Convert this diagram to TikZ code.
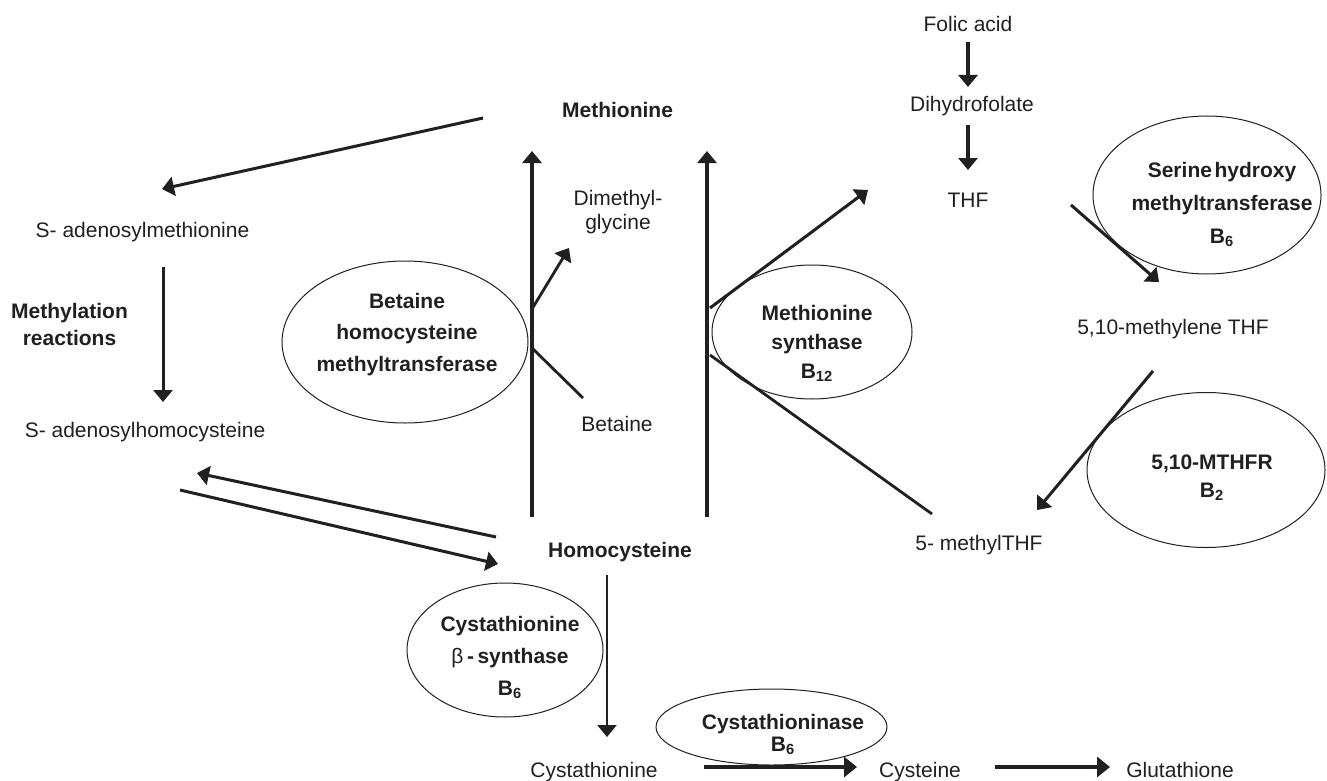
\documentclass[tikz,border=0pt]{standalone}
\usepackage{fontspec}
\setmainfont{Liberation Sans}
\usetikzlibrary{shapes.geometric,arrows.meta}
\definecolor{ink}{RGB}{35,31,32}
\begin{document}
\begin{tikzpicture}[x=0.5pt,y=-0.5pt,color=ink,
  lbl/.style={inner sep=0pt, anchor=base, font=\fontsize{10.5}{12}\selectfont},
  blbl/.style={inner sep=0pt, anchor=base, font=\fontsize{10.5}{12}\selectfont\bfseries},
  mlbl/.style={inner sep=0pt, anchor=north, align=center},
  enz/.style={draw, line width=0.5pt, ellipse, inner sep=0pt},
  tip/.style={-{Triangle[length=6pt,width=9.5pt]}},
  arr/.style={tip, line width=1.5pt},
  farr/.style={tip, line width=2pt},
  thk/.style={-{Triangle[length=6.5pt,width=10pt]}, line width=2pt},
  ln/.style={line width=1.4pt},
]
\useasboundingbox[fill=white] (0,0) rectangle (1327,781);

% enzyme ellipses
\node[enz, minimum width=123pt, minimum height=81pt] (bhmt) at (405,342) {};
\node[enz, minimum width=100pt, minimum height=67pt] (ms) at (812,332) {};
\node[enz, minimum width=114pt, minimum height=79pt] (shmt) at (1207,195) {};
\node[enz, minimum width=119pt, minimum height=77.5pt] (mthfr) at (1206,470) {};
\node[enz, minimum width=98pt, minimum height=67pt] (cbs) at (505,650) {};
\node[enz, minimum width=115.5pt, minimum height=38pt] (cth) at (771.5,727) {};

% enzyme texts
\node[mlbl, font=\fontsize{10.5}{15.75}\selectfont\bfseries] (bhmtT) at (407,292.5) {Betaine\\homocysteine\\methyltransferase};
\node[mlbl, font=\fontsize{10.5}{14.5}\selectfont\bfseries] (msT) at (817,304.5) {Methionine\\synthase\\B\textsubscript{12}};
\node[mlbl, font=\fontsize{10.5}{16.5}\selectfont\bfseries] (shmtT) at (1222,161.5) {Serine\hspace{0.12em}hydroxy\\methyltransferase\\B\textsubscript{6}};
\node[mlbl, font=\fontsize{10.5}{14}\selectfont\bfseries] (mthfrT) at (1212,454.5) {5,10-MTHFR\\B\textsubscript{2}};
\node[mlbl, font=\fontsize{10.5}{16}\selectfont\bfseries] (cbsT) at (510,615.5) {Cystathionine\\{\mdseries β}\,-\,synthase\\B\textsubscript{6}};
\node[mlbl, font=\fontsize{10.5}{11}\selectfont\bfseries] (cthT) at (783,713.5) {Cystathioninase\\B\textsubscript{6}};

% metabolites
\node[lbl] (folic) at (968,31.5) {Folic acid};
\node[lbl] (dhf) at (972,111.5) {Dihydrofolate};
\node[lbl] (thf) at (968,207.5) {THF};
\node[blbl] (met) at (617.5,117.5) {Methionine};
\node[mlbl, font=\fontsize{10.5}{12}\selectfont] (dmg) at (618,190) {Dimethyl-\\glycine};
\node[lbl] (sam) at (142.5,237.5) {S- adenosylmethionine};
\node[mlbl, font=\fontsize{10.5}{13.5}\selectfont\bfseries] (methyl) at (69.5,302.5) {Methylation\\reactions};
\node[lbl] (sah) at (145,437.5) {S- adenosylhomocysteine};
\node[lbl] (bet) at (617,431.5) {Betaine};
\node[blbl] (hcy) at (620,557.5) {Homocysteine};
\node[lbl] (mthf) at (979,550.5) {5- methylTHF};
\node[lbl] (mlthf) at (1173,334.5) {5,10-methylene THF};
\node[lbl] (cysta) at (594,777.5) {Cystathionine};
\node[lbl] (cys) at (920,777.5) {Cysteine};
\node[lbl] (glu) at (1180,777.5) {Glutathione};

% connector end points
\coordinate (metOut) at (483,118);
\coordinate (samIn) at (162,189);
\coordinate (samOut) at (163,267);
\coordinate (sahIn) at (163,402);
\coordinate (hcyOutL) at (496,537);
\coordinate (sahInR) at (197,473);
\coordinate (sahOutR) at (180,490);
\coordinate (hcyInL) at (498,564);
\coordinate (bhBot) at (532,517);
\coordinate (bhTop) at (532,151);
\coordinate (bhDmg) at (532,309);
\coordinate (dmgIn) at (569,248);
\coordinate (bhBet) at (532,348);
\coordinate (betEnd) at (583,398);
\coordinate (msBot) at (707,517);
\coordinate (msTop) at (707,151);
\coordinate (msThf) at (710,308);
\coordinate (thfIn) at (868,190);
\coordinate (msMthf) at (710,355);
\coordinate (mthfEnd) at (932,514);
\coordinate (folOut) at (968,42);
\coordinate (dhfIn) at (968,87);
\coordinate (dhfOut) at (968,125);
\coordinate (thfInT) at (968,170);
\coordinate (thfOut) at (1071,205);
\coordinate (mlIn) at (1159,282);
\coordinate (mlOut) at (1153,371);
\coordinate (mthfIn) at (1037,510);
\coordinate (hcyOut) at (607,575);
\coordinate (cystaIn) at (607,737);
\coordinate (cystaOut) at (704,767);
\coordinate (cysIn) at (857,767);
\coordinate (cysOut) at (995,767);
\coordinate (gluIn) at (1110,767);

% connectors
\draw[arr] (metOut) -- (samIn);
\draw[arr] (samOut) -- (sahIn);
\draw[arr] (hcyOutL) -- (sahInR);
\draw[arr] (sahOutR) -- (hcyInL);
\draw[tip, line width=1.6pt] (bhBot) -- (bhTop);
\draw[arr, line width=1.4pt] (bhDmg) -- (dmgIn);
\draw[ln] (bhBet) -- (betEnd);
\draw[tip, line width=2.3pt] (msBot) -- (msTop);
\draw[arr] (msThf) -- (thfIn);
\draw[ln] (msMthf) -- (mthfEnd);
\draw[farr] (folOut) -- (dhfIn);
\draw[farr] (dhfOut) -- (thfInT);
\draw[arr] (thfOut) -- (mlIn);
\draw[arr] (mlOut) -- (mthfIn);
\draw[arr, line width=1.3pt] (hcyOut) -- (cystaIn);
\draw[thk] (cystaOut) -- (cysIn);
\draw[thk] (cysOut) -- (gluIn);
\end{tikzpicture}
\end{document}
